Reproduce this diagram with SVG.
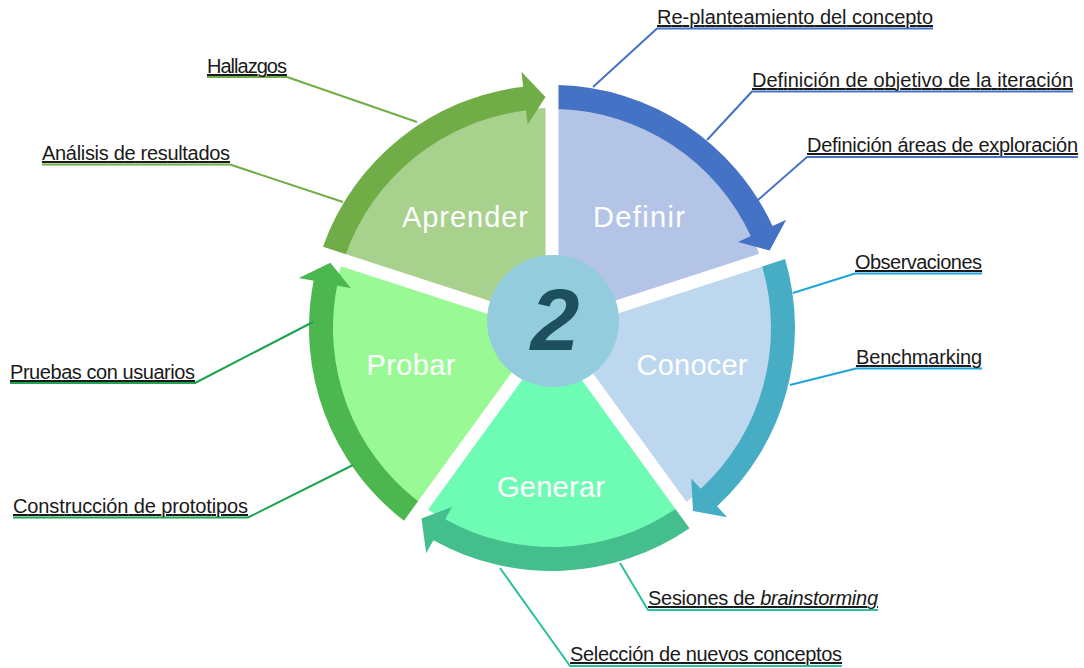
<svg xmlns="http://www.w3.org/2000/svg" width="1084" height="668" viewBox="0 0 1084 668">
<style>
.sec{font-family:"Liberation Sans",Arial,sans-serif;font-size:29px;fill:#ffffff;text-anchor:middle}
.lbl{font-family:"Liberation Sans",Arial,sans-serif;font-size:20px;fill:#1a1a1a;text-decoration:underline}
.ld{fill:none;stroke-width:2;stroke-linejoin:round}
.num{font-family:"Liberation Sans",Arial,sans-serif;font-size:88px;font-weight:bold;font-style:italic;fill:#1d4f5e;text-anchor:middle}
</style>
<rect width="1084" height="668" fill="#ffffff"/>

<g id="node-definir">
<path d="M558.5,319.05 L558.5,108.1 A220,220 0 0 1 759.13,253.87 Z" fill="#b4c4e7"/>
<path d="M558.49,85.09 A243,243 0 0 1 772.57,226.03 L786.19,219.74 L769.6,250.48 L738.08,241.98 L750.79,236.1 A219,219 0 0 0 558.5,109.1 Z" fill="#4472c4"/>
<text class="sec" x="639" y="227" textLength="92">Definir</text>
</g>

<g id="node-conocer">
<path d="M562.52,331.42 L763.15,266.23 A220,220 0 0 1 686.52,502.08 Z" fill="#bdd7ee"/>
<path d="M785.03,259.1 A243,243 0 0 1 717.04,506.36 L727.23,517.37 L692.97,511 L691.23,478.47 L700.74,488.74 A219,219 0 0 0 762.2,266.53 Z" fill="#46adc5"/>
<text class="sec" x="692" y="375" textLength="111">Conocer</text>
</g>

<g id="node-generar">
<path d="M552,339.06 L676,509.73 A220,220 0 0 1 428,509.73 Z" fill="#6efcb5"/>
<path d="M689.54,528.33 A243,243 0 0 1 433.48,540.14 L426.17,553.23 L421.49,518.6 L452.02,506.96 L445.19,519.18 A219,219 0 0 0 675.41,508.92 Z" fill="#43be8c"/>
<text class="sec" x="551" y="497" textLength="108">Generar</text>
</g>

<g id="node-probar">
<path d="M541.48,331.42 L417.46,502.07 A220,220 0 0 1 340.85,266.22 Z" fill="#99fa95"/>
<path d="M403.99,520.72 A243,243 0 0 1 313.62,280.84 L298.9,277.93 L330.39,262.82 L350.9,288.21 L337.16,285.5 A219,219 0 0 0 418.05,501.26 Z" fill="#4cb74f"/>
<text class="sec" x="411" y="375" textLength="89">Probar</text>
</g>

<g id="node-aprender">
<path d="M545.5,319.05 L344.87,253.86 A220,220 0 0 1 545.5,108.1 Z" fill="#a9d18e"/>
<path d="M322.97,246.77 A243,243 0 0 1 523.19,86.71 L521.41,71.82 L545.51,97.09 L527.69,124.45 L526.03,110.54 A219,219 0 0 0 345.82,254.18 Z" fill="#70ad47"/>
<text class="sec" x="465" y="227" textLength="126">Aprender</text>
</g>

<g id="node-center">
<circle cx="553" cy="321" r="66" fill="#93cddd"/>
<text class="num" x="555" y="350">2</text>
</g>

<g id="connectors">
<polyline class="ld" stroke="#4472c4" points="933,28.5 657,28.5 593,87"/>
<polyline class="ld" stroke="#4472c4" points="1073,91.5 752,91.5 707,140"/>
<polyline class="ld" stroke="#4472c4" points="1078,157 807,157 758,200"/>
<polyline class="ld" stroke="#20a4dd" points="982,273.5 855,273.5 793,293"/>
<polyline class="ld" stroke="#20a4dd" points="982,368.5 856,368.5 790,385"/>
<polyline class="ld" stroke="#29c19b" points="878,610 648,610 620,563"/>
<polyline class="ld" stroke="#29c19b" points="842,666 570,666 500,568"/>
<polyline class="ld" stroke="#1ea450" points="10,383 195,383 313,322"/>
<polyline class="ld" stroke="#1ea450" points="13,517.5 248,517.5 353,465"/>
<polyline class="ld" stroke="#70ad47" points="207,77 287,77 417,122"/>
<polyline class="ld" stroke="#70ad47" points="42,164.5 230,164.5 343,202"/>
</g>

<g id="label-replanteamiento"><text class="lbl" x="657" y="24" textLength="276">Re-planteamiento del concepto</text></g>
<g id="label-objetivo"><text class="lbl" x="752" y="87" textLength="321">Definición de objetivo de la iteración</text></g>
<g id="label-areas"><text class="lbl" x="807" y="152" textLength="271">Definición áreas de exploración</text></g>
<g id="label-observaciones"><text class="lbl" x="855" y="269" textLength="127">Observaciones</text></g>
<g id="label-benchmarking"><text class="lbl" x="856" y="364" textLength="126">Benchmarking</text></g>
<g id="label-brainstorming"><text class="lbl" x="648" y="605" textLength="230">Sesiones de <tspan font-style="italic">brainstorming</tspan></text></g>
<g id="label-seleccion"><text class="lbl" x="570" y="661" textLength="272">Selección de nuevos conceptos</text></g>
<g id="label-pruebas"><text class="lbl" x="10" y="379" textLength="185">Pruebas con usuarios</text></g>
<g id="label-prototipos"><text class="lbl" x="13" y="513" textLength="235">Construcción de prototipos</text></g>
<g id="label-hallazgos"><text class="lbl" x="207" y="73" textLength="80">Hallazgos</text></g>
<g id="label-analisis"><text class="lbl" x="42" y="160" textLength="188">Análisis de resultados</text></g>
</svg>
